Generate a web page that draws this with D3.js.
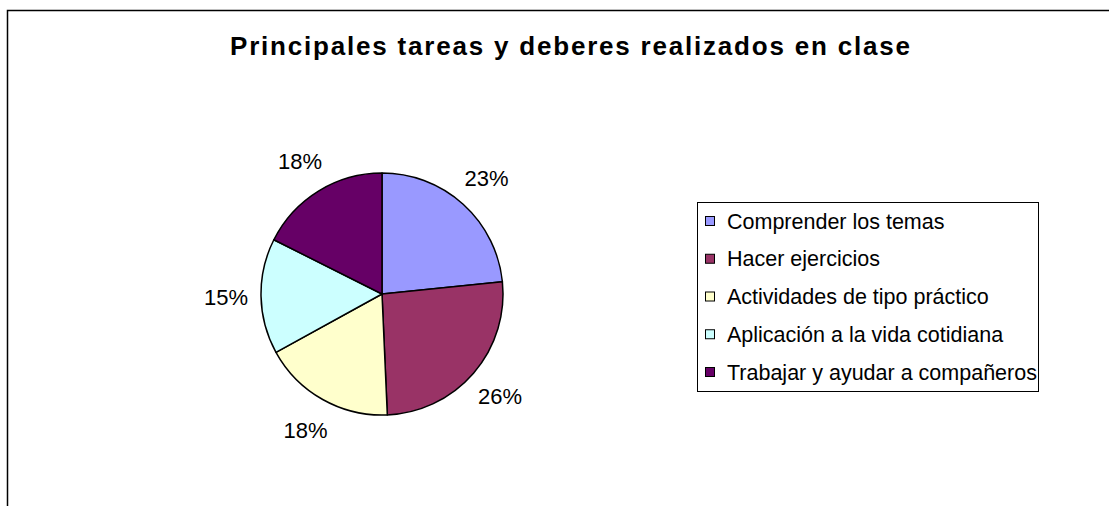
<!DOCTYPE html>
<html>
<head>
<meta charset="utf-8">
<script src="https://cdn.jsdelivr.net/npm/d3@7"></script>
<style>
  body { margin: 0; background: #fff; }
  text { font-family: "Liberation Sans", Arial, sans-serif; fill: #000; }
</style>
</head>
<body>
<svg id="chart"></svg>
<script>
// chart data
const title = "Principales tareas y deberes realizados en clase";
const categories = [
  "Comprender los temas",
  "Hacer ejercicios",
  "Actividades de tipo práctico",
  "Aplicación a la vida cotidiana",
  "Trabajar y ayudar a compañeros"
];
const values = [23.4, 25.9, 17.7, 15.4, 17.6];
const colors = ["#9999ff", "#993366", "#ffffcc", "#ccffff", "#660066"];

const width = 1109, height = 506;
const cx = 382, cy = 294, radius = 121;

const svg = d3.select("#chart").attr("width", width).attr("height", height);

// outer chart frame (continues past the window)
svg.append("rect")
  .attr("x", 7.5).attr("y", 10.5)
  .attr("width", 1200).attr("height", 600)
  .attr("fill", "none").attr("stroke", "#000").attr("stroke-width", 1.5);

// title
svg.append("text")
  .attr("x", 570).attr("y", 55)
  .attr("text-anchor", "middle")
  .attr("textLength", 680)
  .attr("lengthAdjust", "spacing")
  .style("font-size", "26px")
  .style("font-weight", "bold")
  .text(title);

const total = d3.sum(values);
const data = categories.map((c, i) => ({ name: c, value: values[i], color: colors[i] }));

const pie = d3.pie().sort(null).value(d => d.value);
const arc = d3.arc().innerRadius(0).outerRadius(radius);
const labelArc = d3.arc().innerRadius(156).outerRadius(156);

const g = svg.append("g").attr("transform", `translate(${cx},${cy})`);

const arcs = pie(data);

g.selectAll("path.slice")
  .data(arcs)
  .join("path")
  .attr("class", "slice")
  .attr("d", arc)
  .attr("fill", d => d.data.color)
  .attr("stroke", "#000")
  .attr("stroke-width", 1.5)
  .attr("stroke-linejoin", "round");

// percentage labels
const fmt = d3.format(".0%");
g.selectAll("text.pct")
  .data(arcs)
  .join("text")
  .attr("class", "pct")
  .attr("transform", d => `translate(${labelArc.centroid(d)})`)
  .attr("text-anchor", "middle")
  .attr("dy", "0.35em")
  .style("font-size", "22px")
  .text(d => fmt(d.data.value / total));

// legend
const legend = svg.append("g").attr("transform", "translate(697,202)");
legend.append("rect")
  .attr("x", 0.5).attr("y", 0.5)
  .attr("width", 341).attr("height", 189)
  .attr("fill", "#fff").attr("stroke", "#000").attr("stroke-width", 1);

const rowY = d3.scalePoint().domain(categories).range([19, 170]);

const items = legend.selectAll("g.item")
  .data(data)
  .join("g")
  .attr("class", "item")
  .attr("transform", d => `translate(0,${rowY(d.name)})`);

items.append("rect")
  .attr("x", 8.5).attr("y", -4.5)
  .attr("width", 9).attr("height", 9)
  .attr("fill", d => d.color)
  .attr("stroke", "#000").attr("stroke-width", 1);

items.append("text")
  .attr("x", 30).attr("dy", "0.35em")
  .style("font-size", "21.5px")
  .text(d => d.name);
</script>
</body>
</html>
